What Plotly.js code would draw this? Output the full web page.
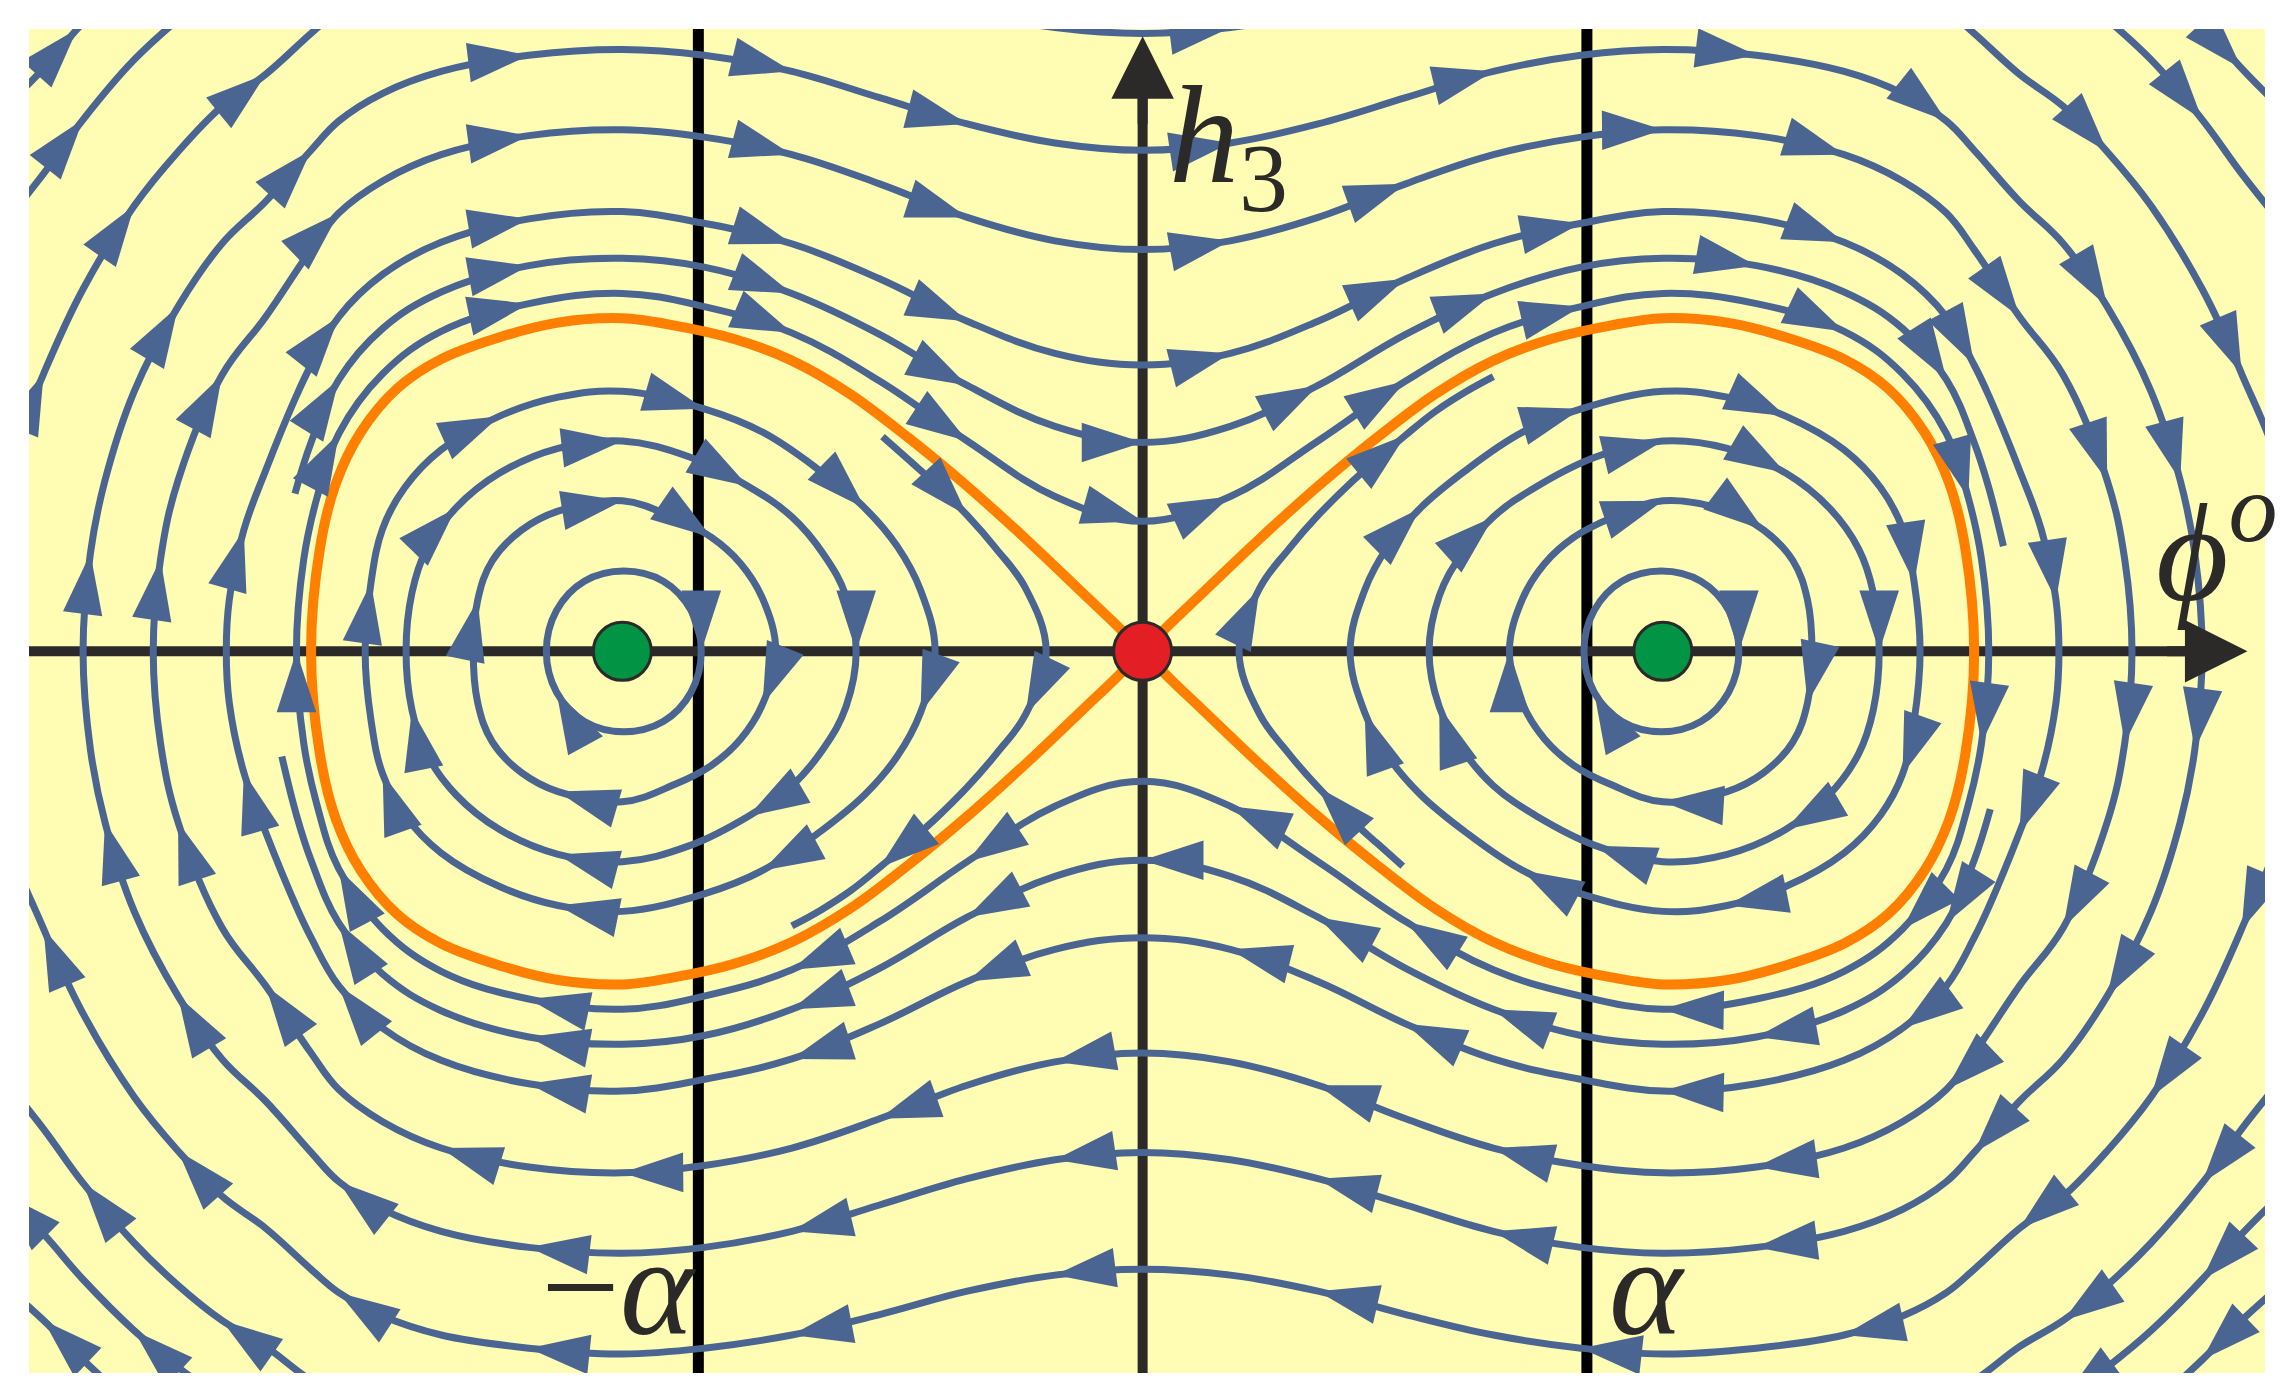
<!DOCTYPE html>
<html>
<head>
<meta charset="utf-8">
<script src="https://cdn.plot.ly/plotly-3.0.1.min.js"></script>
<style>
html, body { margin: 0; padding: 0; background: #ffffff; }
#phase { width: 2291px; height: 1394px; }
</style>
</head>
<body>
<div id="phase"></div>
<script>
// phase plane (phi, h3); alpha sits at +-304 in these units
var alpha = 304;
var wellPhi = [-356, 356];
var saddlePhi = [0];

// separatrix (orange figure eight)
var sepPhi = [0,-20,-40,-80,-120,-160,-200,-240,-280,-320,-356,-400,-440,-480,-510,-535,-552,-563,-569,
  -563,-552,-535,-510,-480,-440,-400,-356,-320,-280,-240,-200,-160,-120,-80,-40,-20,0,
  20,40,80,120,160,200,240,280,320,356,400,440,480,510,535,552,563,569,
  563,552,535,510,480,440,400,356,320,280,240,200,160,120,80,40,20,0];
var sepH = [0,20,39,77,113,146,176,199,214,223,228,225,215,200,180,150,115,70,0,
  -70,-115,-150,-180,-200,-215,-225,-228,-223,-214,-199,-176,-146,-113,-77,-39,-20,0,
  20,39,77,113,146,176,199,214,223,228,225,215,200,180,150,115,70,0,
  -70,-115,-150,-180,-200,-215,-225,-228,-223,-214,-199,-176,-146,-113,-77,-39,-20,0];

// orbits around both wells
var o1Phi = [0,60,120,180,240,300,356,420,480,520,550,565,574,579,
  574,565,550,520,480,420,356,300,240,180,120,60,0,
  -60,-120,-180,-240,-300,-356,-420,-480,-520,-550,-565,-574,-579,
  -574,-565,-550,-520,-480,-420,-356,-300,-240,-180,-120,-60,0];
var o1H = [89,106,144,185,218,236,245,238,219,190,149,105,63,0,
  -63,-105,-149,-190,-219,-238,-245,-236,-218,-185,-144,-106,-89,
  -106,-144,-185,-218,-236,-245,-238,-219,-190,-149,-105,-63,0,
  63,105,149,190,219,238,245,236,218,185,144,106,89];

var o2aPhi = [-580,-569,-550,-520,-480,-420,-356,-300,-240,-180,-120,-60,0,60,120,180,240,300,356,420,480,520,550,569,579,589];
var o2aH = [108,143,186,221,246,264,269,263,245,217,182,154,143,154,182,217,245,263,269,264,246,221,186,143,112,72];
var o2bPhi = [580,569,550,520,480,420,356,300,240,180,120,60,0,-60,-120,-180,-240,-300,-356,-420,-480,-520,-550,-569,-579,-589];
var o2bH = [-108,-143,-186,-221,-246,-264,-269,-263,-245,-217,-182,-154,-143,-154,-182,-217,-245,-263,-269,-264,-246,-221,-186,-143,-112,-72];

var o3Phi = [0,60,120,180,240,300,356,420,480,520,550,569,579,600,615,625,627,
  625,615,600,579,569,550,520,480,420,356,300,240,180,120,60,0,
  -60,-120,-180,-240,-300,-356,-420,-480,-520,-550,-569,-579,-600,-615,-625,-627,
  -625,-615,-600,-579,-569,-550,-520,-480,-420,-356,-300,-240,-180,-120,-60,0];
var o3H = [196,204,226,255,279,293,301,296,280,258,229,196,175,124,83,35,0,
  -35,-83,-124,-175,-196,-229,-258,-280,-296,-301,-293,-279,-255,-226,-204,-196,
  -204,-226,-255,-279,-293,-301,-296,-280,-258,-229,-196,-175,-124,-83,-35,0,
  35,83,124,175,196,229,258,280,296,301,293,279,255,226,204,196];

var o4Phi = [0,60,120,180,240,300,356,420,480,520,550,569,600,630,660,672,677,
  672,660,630,600,569,550,520,480,420,356,300,240,180,120,60,0,
  -60,-120,-180,-240,-300,-356,-420,-480,-520,-550,-569,-600,-630,-660,-672,-677,
  -672,-660,-630,-600,-569,-550,-520,-480,-420,-356,-300,-240,-180,-120,-60,0];
var o4H = [275,281,297,320,340,352,357,353,340,322,300,275,229,189,117,63,0,
  -63,-117,-189,-229,-275,-300,-322,-340,-353,-357,-352,-340,-320,-297,-281,-275,
  -281,-297,-320,-340,-352,-357,-353,-340,-322,-300,-275,-229,-189,-117,-63,0,
  63,117,189,229,275,300,322,340,353,357,352,340,320,297,281,275];

var o5Phi = [0,60,120,180,240,300,356,420,480,520,550,569,600,630,660,690,710,720,725,
  720,710,690,660,630,600,569,550,520,480,420,356,300,240,180,120,60,0,
  -60,-120,-180,-240,-300,-356,-420,-480,-520,-550,-569,-600,-630,-660,-690,-710,-720,-725,
  -720,-710,-690,-660,-630,-600,-569,-550,-520,-480,-420,-356,-300,-240,-180,-120,-60,0];
var o5H = [343,348,361,379,397,408,412,408,397,382,363,343,308,279,236,178,117,67,0,
  -67,-117,-178,-236,-279,-308,-343,-363,-382,-397,-408,-412,-408,-397,-379,-361,-348,-343,
  -348,-361,-379,-397,-408,-412,-408,-397,-382,-363,-343,-308,-279,-236,-178,-117,-67,0,
  67,117,178,236,279,308,343,363,382,397,408,412,408,397,379,361,348,343];

var o6Phi = [0,60,120,180,240,300,356,420,480,520,550,569,600,630,660,690,725,752,780,798,
  780,752,725,690,660,630,600,569,550,520,480,420,356,300,240,180,120,60,0,
  -60,-120,-180,-240,-300,-356,-420,-480,-520,-550,-569,-600,-630,-660,-690,-725,-752,-780,-798,
  -780,-752,-725,-690,-660,-630,-600,-569,-550,-520,-480,-420,-356,-300,-240,-180,-120,-60,0];
var o6H = [423,427,438,454,468,477,481,477,468,455,439,423,395,373,342,305,248,190,118,0,
  -118,-190,-248,-305,-342,-373,-395,-423,-439,-455,-468,-477,-481,-477,-468,-454,-438,-427,-423,
  -427,-438,-454,-468,-477,-481,-477,-468,-455,-439,-423,-395,-373,-342,-305,-248,-190,-118,0,
  118,190,248,305,342,373,395,423,439,455,468,477,481,477,468,454,438,427,423];

// outermost orbits, only their corner arcs fall inside the frame
var o7Phi = [-780,-752,-725,-690,-650,null,650,690,725,752,780,null,
  -560,-579,-600,-630,-660,-690,-725,-752,-780,null,780,752,725,690,660,630,600,579,560];
var o7H = [292,327,364,405,441,null,441,405,364,327,292,null,
  -506,-492,-476,-458,-434,-405,-364,-327,-292,null,-292,-327,-364,-405,-434,-458,-476,-492,-506];
var o8Phi = [-780,-752,-729,-710,null,710,729,752,780,null,
  -630,-660,-690,-725,-752,-780,null,780,752,725,690,660,630];
var o8H = [371,399,426,446,null,446,426,399,371,null,
  -512,-490,-465,-430,-399,-371,null,-371,-399,-430,-465,-490,-512];
var o9Phi = [-700,-725,-752,-780,null,780,752,725,700];
var o9H = [-508,-485,-458,-433,null,-433,-458,-485,-508];

// closed orbits inside the two lobes
var raLPhi = [-355,-328,-309,-302,-309,-328,-355,-382,-401,-408,-401,-382,-355];
var raLH = [55,48,28,0,-28,-48,-55,-48,-28,0,28,48,55];
var raRPhi = [355,382,401,408,401,382,355,328,309,302,309,328,355];
var raRH = [55,48,28,0,-28,-48,-55,-48,-28,0,28,48,55];

var rbLPhi = [-356,-320,-295,-275,-260,-251,-260,-275,-295,-320,-356,-400,-425,-445,-455,-458,-455,-445,-425,-400,-356];
var rbLH = [103,91,78,60,36,0,-36,-60,-78,-91,-103,-96,-83,-62,-35,0,35,62,83,96,103];
var rbRPhi = [356,400,425,445,455,458,455,445,425,400,356,320,295,275,260,251,260,275,295,320,356];
var rbRH = [103,96,83,62,35,0,-35,-62,-83,-96,-103,-91,-78,-60,-36,0,36,60,78,91,103];

var rcLPhi = [-356,-310,-270,-240,-218,-203,-196,-203,-218,-240,-270,-310,-356,-400,-440,-470,-490,-500,-504,-500,-490,-470,-440,-400,-356];
var rcLH = [144,133,113,92,66,38,0,-38,-66,-92,-113,-133,-144,-139,-122,-98,-70,-40,0,40,70,98,122,139,144];
var rcRPhi = [356,400,440,470,490,500,504,500,490,470,440,400,356,310,270,240,218,203,196,203,218,240,270,310,356];
var rcRH = [144,139,122,98,70,40,0,-40,-70,-98,-122,-139,-144,-133,-113,-92,-66,-38,0,38,66,92,113,133,144];

var rdLPhi = [-356,-300,-260,-220,-190,-168,-152,-142,-152,-168,-190,-220,-260,-300,-356,-400,-440,-480,-505,-520,-528,-532,-528,-520,-505,-480,-440,-400,-356];
var rdLH = [178,166,150,123,98,72,42,0,-42,-72,-98,-123,-150,-166,-178,-174,-161,-138,-112,-84,-47,0,47,84,112,138,161,174,178];
var rdRPhi = [356,400,440,480,505,520,528,532,528,520,505,480,440,400,356,300,260,220,190,168,152,142,152,168,190,220,260,300,356];
var rdRH = [178,174,161,138,112,84,47,0,-47,-84,-112,-138,-161,-174,-178,-166,-150,-123,-98,-72,-42,0,42,72,98,123,150,166,178];

// open streamlines hugging the separatrix near the saddle
var eLPhi = [-178,-160,-140,-120,-100,-80,-66,-80,-100,-120,-140,-160,-180,-200,-220,-240];
var eLH = [147,131,113,93,70,43,0,-43,-70,-93,-113,-131,-148,-164,-177,-188];
var eRPhi = [178,160,140,120,100,80,66,80,100,120,140,160,180,200,220,240];
var eRH = [-147,-131,-113,-93,-70,-43,0,43,70,93,113,131,148,164,177,188];

var streamlines = [
  [o1Phi, o1H], [o2aPhi, o2aH], [o2bPhi, o2bH], [o3Phi, o3H], [o4Phi, o4H],
  [o5Phi, o5H], [o6Phi, o6H], [o7Phi, o7H], [o8Phi, o8H], [o9Phi, o9H],
  [raLPhi, raLH], [raRPhi, raRH], [rbLPhi, rbLH], [rbRPhi, rbRH],
  [rcLPhi, rcLH], [rcRPhi, rcRH], [rdLPhi, rdLH], [rdRPhi, rdRH],
  [eLPhi, eLH], [eRPhi, eRH]
];

var streamColor = '#4A6591';
var ink = '#2B2A29';
var ARROW_STEP = 125;
var ARROW_SIZE = 64;

// arrowheads every ARROW_STEP along the path, pointing along the flow
function arrowMarks(xs, ys) {
    var sizes = [], angles = [];
    var run = ARROW_STEP * 0.55;
    for (var i = 0; i < xs.length; i++) {
        if (xs[i] === null) {
            sizes.push(0); angles.push(0);
            run = ARROW_STEP * 0.55;
            continue;
        }
        var prevOk = i > 0 && xs[i - 1] !== null;
        var nextOk = i < xs.length - 1 && xs[i + 1] !== null;
        if (prevOk) run += Math.hypot(xs[i] - xs[i - 1], ys[i] - ys[i - 1]);
        var a = prevOk ? i - 1 : i;
        var b = nextOk ? i + 1 : i;
        angles.push(Math.atan2(xs[b] - xs[a], ys[b] - ys[a]) * 180 / Math.PI);
        if (prevOk && run >= ARROW_STEP) {
            sizes.push(ARROW_SIZE);
            run = 0;
        } else {
            sizes.push(0);
        }
    }
    return {sizes: sizes, angles: angles};
}

var traces = [];

traces.push({
    x: sepPhi, y: sepH, type: 'scatter', mode: 'lines', hoverinfo: 'skip',
    line: {color: '#FF8000', width: 10, shape: 'spline', smoothing: 1}
});

streamlines.forEach(function (s) {
    var m = arrowMarks(s[0], s[1]);
    traces.push({
        x: s[0], y: s[1], type: 'scatter', mode: 'lines+markers', hoverinfo: 'skip',
        connectgaps: false,
        line: {color: streamColor, width: 7, shape: 'spline', smoothing: 1.1},
        marker: {symbol: 'arrow', size: m.sizes, angle: m.angles, color: streamColor,
                 opacity: 1, line: {width: 0}}
    });
});

// fixed points
traces.push({
    x: wellPhi, y: [0, 0], type: 'scatter', mode: 'markers', hoverinfo: 'skip',
    marker: {size: 58, color: '#009444', line: {color: ink, width: 3}}
});
traces.push({
    x: saddlePhi, y: [0], type: 'scatter', mode: 'markers', hoverinfo: 'skip',
    marker: {size: 58, color: '#E31E24', line: {color: ink, width: 3}}
});

var xr = [-762, 768];
var yr = [-494, 426];
var labelFont = {family: 'Liberation Serif, Times New Roman, serif', size: 140, color: ink};

var layout = {
    width: 2291, height: 1394,
    margin: {l: 29, r: 26, t: 29, b: 21},
    paper_bgcolor: '#ffffff',
    plot_bgcolor: '#FFFDB3',
    showlegend: false,
    xaxis: {range: xr, visible: false},
    yaxis: {range: yr, visible: false},
    shapes: [
        {type: 'line', xref: 'x', yref: 'y', x0: -alpha, x1: -alpha, y0: yr[0], y1: yr[1], layer: 'below',
         line: {color: '#000000', width: 11}},
        {type: 'line', xref: 'x', yref: 'y', x0: alpha, x1: alpha, y0: yr[0], y1: yr[1], layer: 'below',
         line: {color: '#000000', width: 11}},
        {type: 'line', xref: 'x', yref: 'y', x0: xr[0], x1: 720, y0: 0, y1: 0, layer: 'below',
         line: {color: ink, width: 10}},
        {type: 'line', xref: 'x', yref: 'y', x0: 0, x1: 0, y0: yr[0], y1: 380, layer: 'below',
         line: {color: ink, width: 10}}
    ],
    annotations: [
        {x: 756, y: 0, ax: 700, ay: 0, xref: 'x', yref: 'y', axref: 'x', ayref: 'y', text: '',
         showarrow: true, arrowhead: 2, arrowsize: 1.25, arrowwidth: 10, arrowcolor: ink},
        {x: 0, y: 421, ax: 0, ay: 360, xref: 'x', yref: 'y', axref: 'x', ayref: 'y', text: '',
         showarrow: true, arrowhead: 2, arrowsize: 1.25, arrowwidth: 10, arrowcolor: ink},
        {x: 17, y: 347, xref: 'x', yref: 'y', xanchor: 'left', yanchor: 'middle', showarrow: false,
         text: '<i>h</i><sub>3</sub>', font: labelFont},
        {x: 692, y: 75, xref: 'x', yref: 'y', xanchor: 'left', yanchor: 'middle', showarrow: false,
         text: '<i>\u03D5</i><sup><i>o</i></sup>', font: labelFont},
        {x: -alpha, y: -435, xref: 'x', yref: 'y', xanchor: 'right', yanchor: 'middle', showarrow: false,
         text: '\u2212<i>\u03B1</i>', font: labelFont},
        {x: alpha + 14, y: -435, xref: 'x', yref: 'y', xanchor: 'left', yanchor: 'middle', showarrow: false,
         text: '<i>\u03B1</i>', font: labelFont}
    ]
};

Plotly.newPlot('phase', traces, layout, {staticPlot: true});
</script>
</body>
</html>
